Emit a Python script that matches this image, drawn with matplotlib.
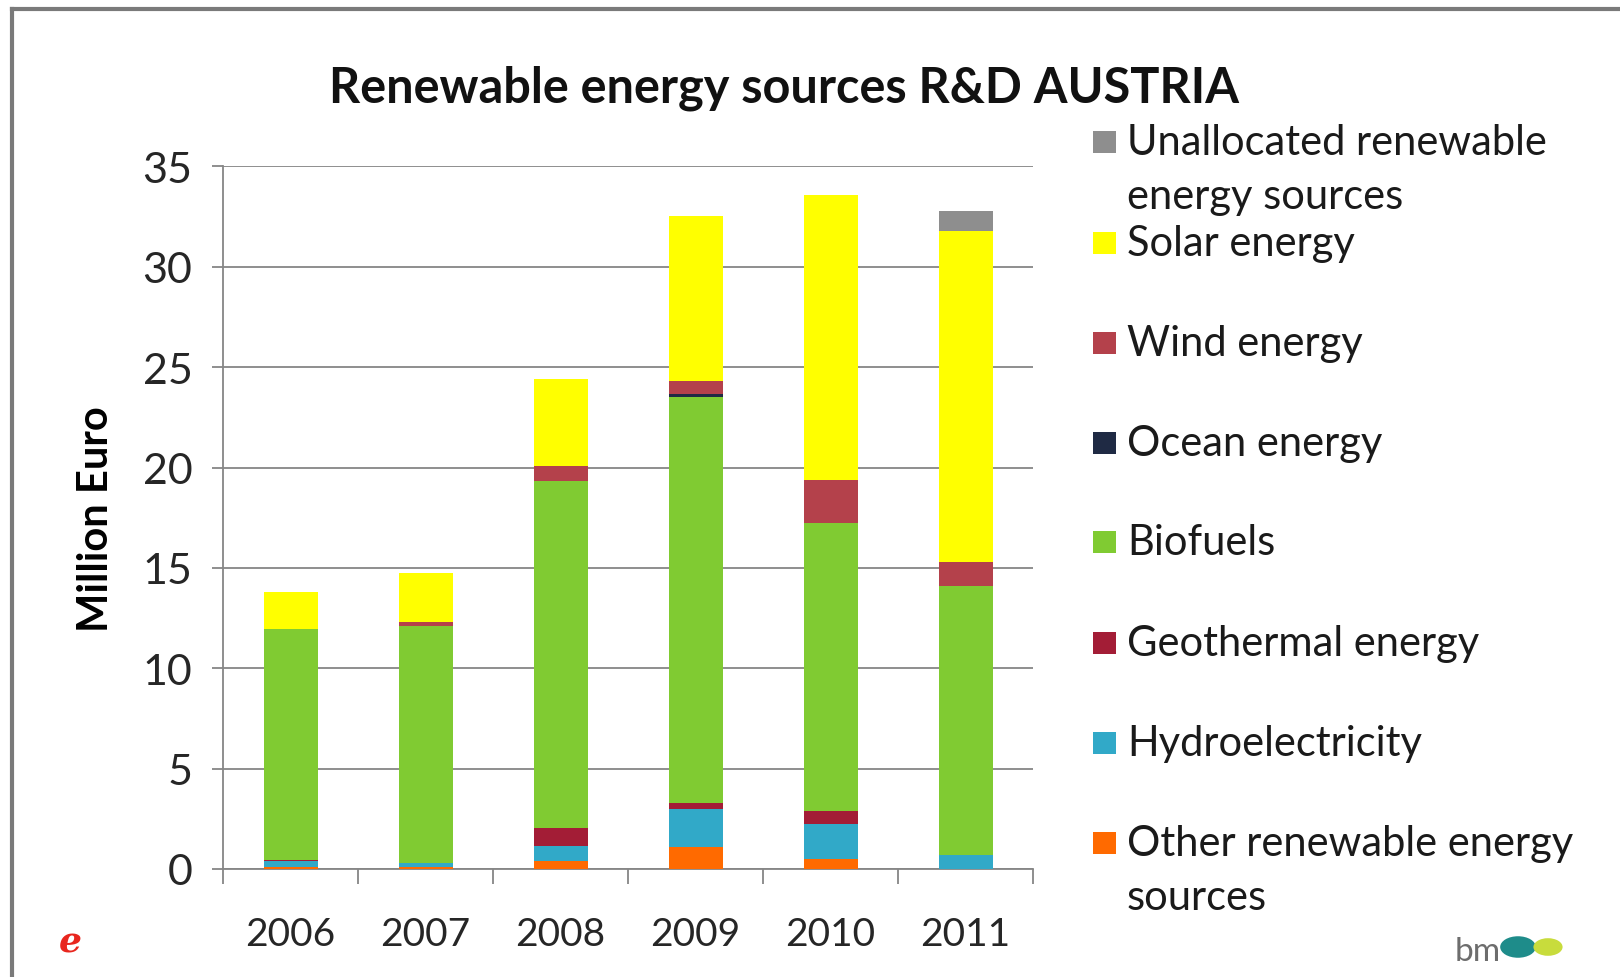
import matplotlib
matplotlib.use("Agg")
import matplotlib.pyplot as plt
from matplotlib.patches import Rectangle, Circle
from matplotlib.lines import Line2D
import numpy as np

years = ["2006", "2007", "2008", "2009", "2010", "2011"]
other = [0.10, 0.10, 0.40, 1.10, 0.50, 0.00]
hydro = [0.30, 0.20, 0.75, 1.90, 1.75, 0.70]
geothermal = [0.05, 0.00, 0.90, 0.30, 0.65, 0.00]
biofuels = [11.49, 11.82, 17.30, 20.20, 14.35, 13.40]
ocean = [0.00, 0.00, 0.00, 0.15, 0.00, 0.00]
wind = [0.00, 0.20, 0.72, 0.65, 2.12, 1.19]
solar = [1.88, 2.44, 4.35, 8.25, 14.21, 16.47]
unallocated = [0.00, 0.00, 0.00, 0.00, 0.00, 1.00]

series = [
    ("Other renewable energy\nsources", other, "#FF6A00"),
    ("Hydroelectricity", hydro, "#31A9C8"),
    ("Geothermal energy", geothermal, "#A31D36"),
    ("Biofuels", biofuels, "#80CB32"),
    ("Ocean energy", ocean, "#1F2A44"),
    ("Wind energy", wind, "#B4414B"),
    ("Solar energy", solar, "#FFFF00"),
    ("Unallocated renewable\nenergy sources", unallocated, "#8E8E8E"),
]

FONT = "Lato"
W, H = 1620, 978
fig = plt.figure(figsize=(W / 100, H / 100), dpi=100)
fig.patch.set_facecolor("white")

def fx(px):
    return px / W

def fy(py):
    return 1 - py / H

ax = fig.add_axes([fx(223), fy(870), fx(1033) - fx(223), fy(167.4) - fy(870)])
x = np.arange(len(years))
bottom = np.zeros(len(years))
for name, vals, col in series:
    v = np.array(vals)
    ax.bar(x, v, width=0.4, bottom=bottom, color=col, edgecolor="none", zorder=3)
    bottom += v

ax.set_xlim(-0.5, len(years) - 0.5)
ax.set_ylim(0, 35)
ax.set_yticks(np.arange(0, 36, 5))
ax.yaxis.grid(True, color="#868686", linewidth=1.3, zorder=0)
ax.set_axisbelow(True)
for s in ["top", "right"]:
    ax.spines[s].set_visible(False)
for s in ["left", "bottom"]:
    ax.spines[s].set_color("#868686")
    ax.spines[s].set_linewidth(1.3)

ax.set_xticks(x)
ax.set_xticklabels(years)
ax.set_xticks(np.arange(-0.5, len(years), 1.0), minor=True)
ax.tick_params(axis="x", which="major", length=0, pad=34, labelsize=28, labelcolor="#262626")
ax.tick_params(axis="x", which="minor", length=11, width=1.3, color="#868686")
ax.tick_params(axis="y", length=8, width=1.3, color="#868686", pad=14, labelsize=31, labelcolor="#262626")
for lab in ax.get_xticklabels() + ax.get_yticklabels():
    lab.set_fontfamily(FONT)

ax.set_ylabel("Million Euro", fontsize=30, fontweight="bold", family=FONT, labelpad=20)

fig.text(fx(784), fy(88), "Renewable energy sources R&D AUSTRIA", ha="center", va="center",
         fontsize=35, fontweight="bold", family=FONT, color="#111111")

# legend (top to bottom = reverse stacking order)
leg_y = [844, 744, 644, 543, 444, 344, 244, 143]
for (name, vals, col), yy in zip(series, leg_y):
    fig.patches.append(Rectangle((fx(1093), fy(yy + 11)), fx(23), fy(yy - 11) - fy(yy + 11),
                                 transform=fig.transFigure, facecolor=col, edgecolor="none"))
    lines = name.split("\n")
    for i, ln in enumerate(lines):
        fig.text(fx(1127), fy(yy + 54 * i), ln, ha="left", va="center",
                 fontsize=30, family=FONT, color="#1a1a1a")

# frame
fig.add_artist(Line2D([fx(12), fx(12)], [fy(10), fy(978)], transform=fig.transFigure, color="#7a7a7a", lw=3))
fig.add_artist(Line2D([fx(12), fx(1620)], [fy(10), fy(10)], transform=fig.transFigure, color="#7a7a7a", lw=3))

# logos
fig.text(fx(70), fy(943), "e", ha="center", va="center", fontsize=26, fontstyle="italic",
         fontweight="bold", color="#E8261E", family="DejaVu Serif")
fig.text(fx(1478), fy(952), "bm", ha="center", va="center", fontsize=24, color="#6d6d6d", family=FONT)
fig.patches.append(Circle((fx(1518), fy(948)), 0.011, transform=fig.transFigure, facecolor="#1E8C8A", edgecolor="none"))
fig.patches.append(Circle((fx(1548), fy(948)), 0.009, transform=fig.transFigure, facecolor="#C8DC3C", edgecolor="none"))

fig.savefig("out.png", dpi=100, facecolor="white")
